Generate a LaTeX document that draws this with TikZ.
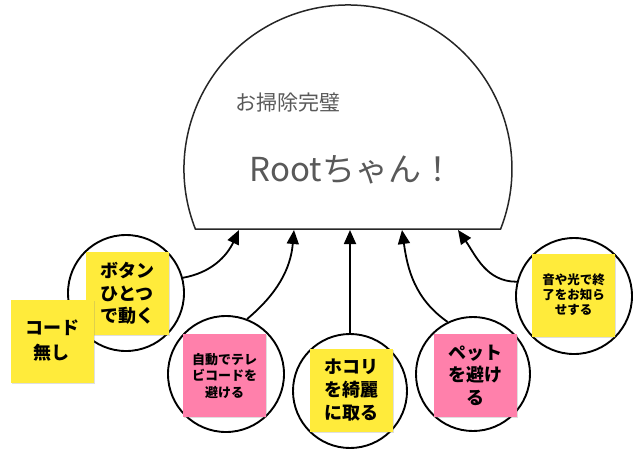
\documentclass[tikz,border=0pt]{standalone}
\usepackage{fontspec}
\newfontfamily\jp{Noto Sans CJK JP}
\usetikzlibrary{arrows.meta,shadows}
\definecolor{sticky}{RGB}{255,235,59}
\definecolor{pinky}{RGB}{255,128,171}
\definecolor{txtgray}{RGB}{89,89,89}
\begin{document}
\begin{tikzpicture}[x=1pt,y=1pt,
  bubble/.style={circle,draw=black,line width=1.9pt,minimum size=116pt,inner sep=0pt},
  note/.style={draw=none,minimum width=83pt,minimum height=83pt,inner sep=0pt,align=center,
    drop shadow={shadow xshift=1pt,shadow yshift=-1.2pt,opacity=.25}},
  yel/.style={note,fill=sticky},
  pnk/.style={note,fill=pinky},
  bigtxt/.style={font=\jp\bfseries\fontsize{18}{22.5}\selectfont},
  smalltxt/.style={font=\jp\bfseries\fontsize{13}{16.5}\selectfont},
  link/.style={line width=1.8pt,-{Triangle[length=14pt,width=12pt]}}]
\useasboundingbox (0,0) rectangle (640,-456);
% dome
\coordinate (domec) at (348,-169);
\draw[line width=1.5pt,draw=black!85] (195.4,-229.1) arc[start angle=201.5,end angle=-21.5,radius=164] -- cycle;
\node[font=\jp\fontsize{21}{21}\selectfont,text=txtgray] (sub) at (288,-103) {お掃除完璧};
\node[font=\jp\fontsize{33}{33}\selectfont,text=txtgray] (title) at (352,-170) {Rootちゃん！};
\coordinate (t1) at (239,-230);
\coordinate (t2) at (294,-230);
\coordinate (t3) at (350,-230);
\coordinate (t4) at (402,-230);
\coordinate (t5) at (458,-230);
% circles
\node[bubble] (c1) at (126,-293) {};
\node[bubble] (c2) at (226,-374) {};
\node[bubble,minimum size=114pt] (c3) at (350,-391) {};
\node[bubble,minimum size=114pt] (c4) at (473,-374) {};
\node[bubble] (c5) at (574,-296) {};
% arrows
\draw[link] (c1.15) to[out=10,in=-115] (t1);
\draw[link] (c2.69) to[out=40,in=-95] (t2);
\draw[link] (c3.north) -- (t3);
\draw[link] (c4.116) to[out=145,in=-82] (t4);
\draw[link] (c5.166) to[out=180,in=-55] (t5);
% sticky notes
\node[yel,bigtxt] (s1) at (127,-293.5) {ボタン\\ひとつ\\で動く};
\node[yel,font=\jp\bfseries\fontsize{18}{25}\selectfont] (s2) at (52,-341) {コード\\無し};
\node[pnk,smalltxt] (s3) at (224.5,-375.5) {自動でテレ\\ビコードを\\避ける};
\node[yel,font=\jp\bfseries\fontsize{18}{23}\selectfont] (s4) at (351,-390.5) {ホコリ\\を綺麗\\に取る};
\node[pnk,bigtxt] (s5) at (475,-375) {ペット\\を避け\\る};
\node[yel,font=\jp\bfseries\fontsize{12.5}{15}\selectfont] (s6) at (573.5,-295) {音や光で終\\了をお知ら\\せする};
\end{tikzpicture}
\end{document}
